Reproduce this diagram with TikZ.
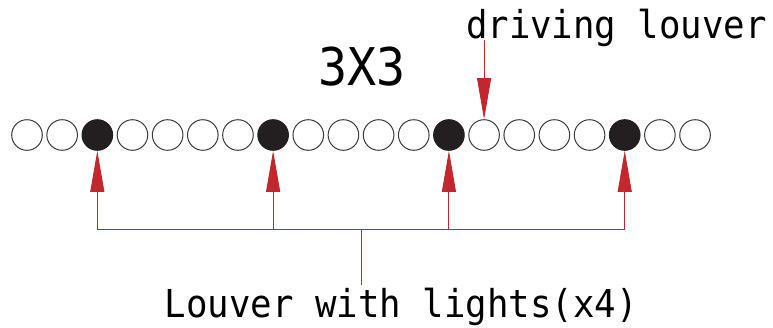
\documentclass[tikz,border=0pt]{standalone}
\usepackage{fontspec}
\usepackage{tikz}
\usetikzlibrary{positioning,arrows.meta,calc}
\newfontfamily\lblfont[FakeStretch=0.93]{DejaVu Sans Mono}
\definecolor{red600}  {HTML}{C1272D}
\definecolor{grey700} {HTML}{3A3A3A}
\definecolor{ink900}  {HTML}{231F20}
\tikzset{
  lv/.style    ={circle, draw=grey700, line width=1pt, fill=white,
                 minimum size=30.6pt, inner sep=0pt},
  lit/.style   ={lv, draw=ink900, fill=ink900},
  ar/.style    ={-{Triangle[length=41pt,width=14pt]}, draw=red600,
                 line width=0.9pt},
  bus/.style   ={draw=red600, line width=0.9pt},
  lbl/.style   ={font=\lblfont\fontsize{38.4}{40}\selectfont, inner sep=2pt,
                 anchor=base},
  ttl/.style   ={font=\lblfont\fontsize{52}{54}\selectfont, inner sep=0pt,
                 anchor=base}
}

\begin{document}
\begin{tikzpicture}[x=1pt, y=-1pt]
\useasboundingbox (0,0) rectangle (773,327);

% the row of louvers, every fifth one has lights
\foreach \i in {0,...,19}{
  \pgfmathtruncatemacro\r{mod(\i+3,5)}
  \ifnum\r=0
    \node[lit] (c\i) at ({27+35.16*\i},135) {};
  \else
    \node[lv] (c\i) at ({27+35.16*\i},135) {};
  \fi
}

\node[ttl] (size) at (362,85) {3X3};
\node[lbl, text depth=0pt] (drv) at (616.5,38) {driving louver};
\node[lbl] (lights) at (401.5,317) {Louver with lights(x4)};

\draw[ar] (c13 |- drv.south) -- (c13);

\coordinate (hub) at ($(c2)!0.5!(c17)$);
\coordinate (hub) at (hub |- 0,229);
\draw[bus] (hub -| c2) -- (hub -| c17);
\draw[bus] (lights.north -| hub) -- (hub);
\foreach \k in {2,7,12,17}
  \draw[ar] (hub -| c\k) -- (c\k);
\end{tikzpicture}
\end{document}
